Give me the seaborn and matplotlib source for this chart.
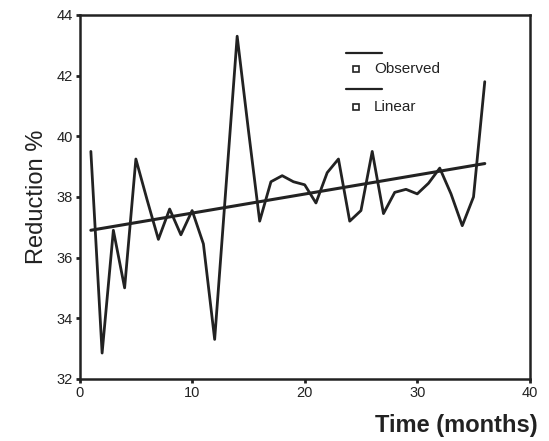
import matplotlib
matplotlib.use("Agg")
import matplotlib.pyplot as plt
import seaborn as sns
import pandas as pd

# values
months = list(range(1, 37))
observed = [39.5, 32.85, 36.9, 35.0, 39.25, 37.9, 36.6, 37.6, 36.75, 37.55,
            36.45, 33.3, 38.3, 43.3, 40.2, 37.2, 38.5, 38.7, 38.5, 38.4,
            37.8, 38.8, 39.25, 37.2, 37.55, 39.5, 37.45, 38.15, 38.25, 38.1,
            38.45, 38.95, 38.1, 37.05, 38.0, 41.8]
linear_x = [1, 36]
linear_y = [36.9, 39.1]

x_ticks = [0, 10, 20, 30, 40]
y_ticks = [32, 34, 36, 38, 40, 42, 44]

obs_df = pd.DataFrame({"month": months, "reduction": observed})
lin_df = pd.DataFrame({"month": linear_x, "reduction": linear_y})

sns.set_theme(style="ticks")
plt.rcParams["font.family"] = ["Liberation Sans", "DejaVu Sans"]

fig = plt.figure(figsize=(5.49, 4.41), dpi=100)
ax = fig.add_axes([0.145, 0.141, 0.82, 0.825])

sns.lineplot(data=obs_df, x="month", y="reduction", color="#222222",
             linewidth=2.0, ax=ax)
sns.lineplot(data=lin_df, x="month", y="reduction", color="#222222",
             linewidth=2.2, ax=ax)

ax.set_xlim(0, 40)
ax.set_ylim(32, 44)
ax.set_xticks(x_ticks)
ax.set_yticks(y_ticks)
ax.tick_params(direction="out", length=3, width=2, labelsize=10.5,
               colors="#222222", pad=2)
for side in ["top", "right", "bottom", "left"]:
    ax.spines[side].set_visible(True)
    ax.spines[side].set_linewidth(1.8)
    ax.spines[side].set_color("#222222")

ax.set_xlabel("")
ax.set_ylabel("Reduction %", fontsize=17, color="#222222", labelpad=6)
fig.text(0.98, 0.035, "Time (months)", fontsize=17, fontweight="bold",
         color="#222222", ha="right", va="center")

# Origin-style legend block
for y_line, y_txt, label in [(0.895, 0.851, "Observed"), (0.796, 0.747, "Linear")]:
    ax.plot([0.591, 0.671], [y_line, y_line], color="#222222", linewidth=1.6,
            transform=ax.transAxes)
    ax.plot([0.614], [y_txt], marker="s", markersize=4, markerfacecolor="white",
            markeredgecolor="#222222", markeredgewidth=1.2, transform=ax.transAxes)
    ax.text(0.654, y_txt, label, fontsize=11, color="#222222", va="center",
            transform=ax.transAxes)

fig.savefig("out.png", dpi=100)
